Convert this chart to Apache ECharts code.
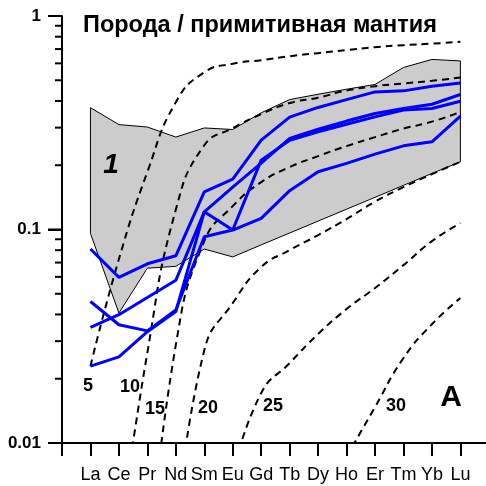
<!DOCTYPE html>
<html><head><meta charset="utf-8">
<script src="https://cdn.jsdelivr.net/npm/echarts@6/dist/echarts.min.js"></script>
<style>html,body{margin:0;padding:0;background:#fff}#c{width:486px;height:486px}</style>
</head><body><div id="c"></div>
<script>
// Categories (REE)
const elements = ['La','Ce','Pr','Nd','Sm','Eu','Gd','Tb','Dy','Ho','Er','Tm','Yb','Lu'];
// Y-axis ticks
const yMajorTicks = [0.01, 0.1, 1];
const yMinorTicks = [0.02,0.03,0.04,0.05,0.06,0.07,0.08,0.09,0.2,0.3,0.4,0.5,0.6,0.7,0.8,0.9];
// Field 1 (grey area) boundaries
const fieldUpper = [0.372,0.310,0.302,0.271,0.299,0.294,0.352,0.406,0.430,0.454,0.478,0.574,0.626,0.616];
const fieldLower = [0.0959,0.0406,0.0659,0.0672,0.0810,0.0744,0.0847,0.0963,0.1095,0.1245,0.1415,0.161,0.183,0.2075];
// Sample spectra (blue)
const sample1 = [0.081,0.0597,0.0691,0.0753,0.150,0.172,0.262,0.336,0.373,0.406,0.441,0.446,0.469,0.486];
const sample2 = [0.0348,0.0399,0.048,0.0578,0.121,0.158,0.2046,0.267,0.295,0.322,0.3496,0.369,0.386,0.429];
const sample3 = [0.0229,0.0253,0.0332,0.0413,0.121,0.0994,0.2113,0.262,0.2868,0.3114,0.337,0.3624,0.369,0.399];
const sample4 = [0.046,0.0358,0.0335,0.042,0.0924,0.0994,0.1127,0.152,0.1863,0.204,0.2254,0.2465,0.2574,0.3396];
// Model curves (dashed), labelled by degree
const curve5  = [0.0229,0.0727,0.186,0.395,0.545,0.598,0.621,0.648,0.67,0.692,0.714,0.730,0.742,0.757];
const curve10 = [null,0.0034,0.0265,0.124,0.248,0.2984,0.347,0.391,0.4145,0.4475,0.469,0.483,0.497,0.515];
const curve15 = [null,null,0.0024,0.0288,0.0882,0.1287,0.1667,0.196,0.2207,0.2458,0.2708,0.2968,0.320,0.3556];
const curve20 = [null,null,null,0.0038,0.0272,0.0452,0.0667,0.080,0.0941,0.1119,0.135,0.158,0.1817,0.2075];
const curve25 = [null,null,null,null,null,0.0072,0.01714,0.02368,0.0324,0.0424,0.0532,0.0681,0.0882,0.107];
const curve30 = [null,null,null,null,null,null,null,null,null,0.0086,0.01474,0.025,0.036,0.0477];

const FONT = '"Liberation Sans", Arial, sans-serif';
const pairs = arr => arr.map((v,i)=>[i+1, v]).filter(p => p[1] != null);
const xTickVals = elements.map((e,i)=>i).concat([elements.length]);
const xLabelVals = elements.map((e,i)=>i+1);

const blue = arr => ({type:'line', data:pairs(arr), symbol:'none', z:4, silent:true,
  lineStyle:{color:'#0000ff', width:3}});
const dashed = arr => ({type:'line', data:pairs(arr), symbol:'none', z:3, silent:true,
  smooth:0.5, lineStyle:{color:'#000', width:2, type:[7,5]}});

const txt = (text, x, y, font) => ({type:'text', x, y, z:10,
  style:{text, font:font+' '+FONT, fill:'#000', align:'center', verticalAlign:'middle'}});

const chart = echarts.init(document.getElementById('c'), null, {renderer:'canvas'});
const baseGraphic = [
    {type:'text', x:83, y:26, z:10, style:{text:'Порода / примитивная мантия', font:'bold 23.5px '+FONT, fill:'#000', align:'left', verticalAlign:'middle'}},
    txt('1', 111, 165, 'italic bold 28px'),
    txt('5', 88, 386, 'bold 18px'),
    txt('10', 130, 387, 'bold 18px'),
    txt('15', 155, 409, 'bold 18px'),
    txt('20', 208, 408, 'bold 18px'),
    txt('25', 273, 406, 'bold 18px'),
    txt('30', 396, 406, 'bold 18px'),
    txt('A', 451, 398, 'bold 30px')
];
chart.setOption({
  animation:false,
  backgroundColor:'#fff',
  grid:{left:62, right:0, top:16, bottom:43, outerBoundsMode:'none', containLabel:false},
  xAxis:{type:'value', min:0, max:14.9, interval:1,
    axisLine:{lineStyle:{color:'#000', width:2}},
    axisTick:{customValues:xTickVals, length:13, lineStyle:{color:'#000', width:2}},
    axisLabel:{customValues:xLabelVals, formatter:v=>elements[Math.round(v)-1]||'', color:'#000',
      fontSize:18, fontFamily:FONT, margin:23},
    splitLine:{show:false}},
  yAxis:{type:'log', logBase:10, min:0.01, max:1,
      axisLine:{show:true, lineStyle:{color:'#000', width:2}},
      axisTick:{show:true, length:14, lineStyle:{color:'#000', width:2}},
      minorTick:{show:false},
      axisLabel:{formatter:v=>String(+Number(v).toPrecision(3)), color:'#000', fontSize:17,
        fontWeight:'bold', fontFamily:FONT, margin:21},
      splitLine:{show:false}},
  series:[
    {type:'custom', data:[[1, fieldUpper[0]]], encode:{x:0, y:1}, z:1, silent:true,
      renderItem:(params, api)=>{
        const pts = [];
        fieldUpper.forEach((v,i)=>pts.push(api.coord([i+1, v])));
        for (let i=fieldLower.length-1;i>=0;i--) pts.push(api.coord([i+1, fieldLower[i]]));
        return {type:'polygon', shape:{points:pts}, style:{fill:'#cccccc', stroke:'#000', lineWidth:1}};
      }},
    dashed(curve5), dashed(curve10), dashed(curve15), dashed(curve20), dashed(curve25), dashed(curve30),
    blue(sample1), blue(sample2), blue(sample3), blue(sample4)
  ],
  graphic: baseGraphic
});

// y-axis tick marks, positioned through the chart's log scale
const tickEls = [];
const addTicks = (vals, len) => vals.forEach(v => {
  const p = chart.convertToPixel({gridIndex:0}, [0, v]);
  if (!p || !isFinite(p[0]) || !isFinite(p[1])) return;
  tickEls.push({type:'line', z:30, silent:true,
    shape:{x1:p[0]-len, y1:p[1], x2:p[0], y2:p[1]},
    style:{stroke:'#000', lineWidth:2}});
});
addTicks(yMajorTicks, 14);
addTicks(yMinorTicks, 7);
chart.setOption({graphic: baseGraphic.concat(tickEls)}, {replaceMerge:['graphic']});
</script></body></html>
